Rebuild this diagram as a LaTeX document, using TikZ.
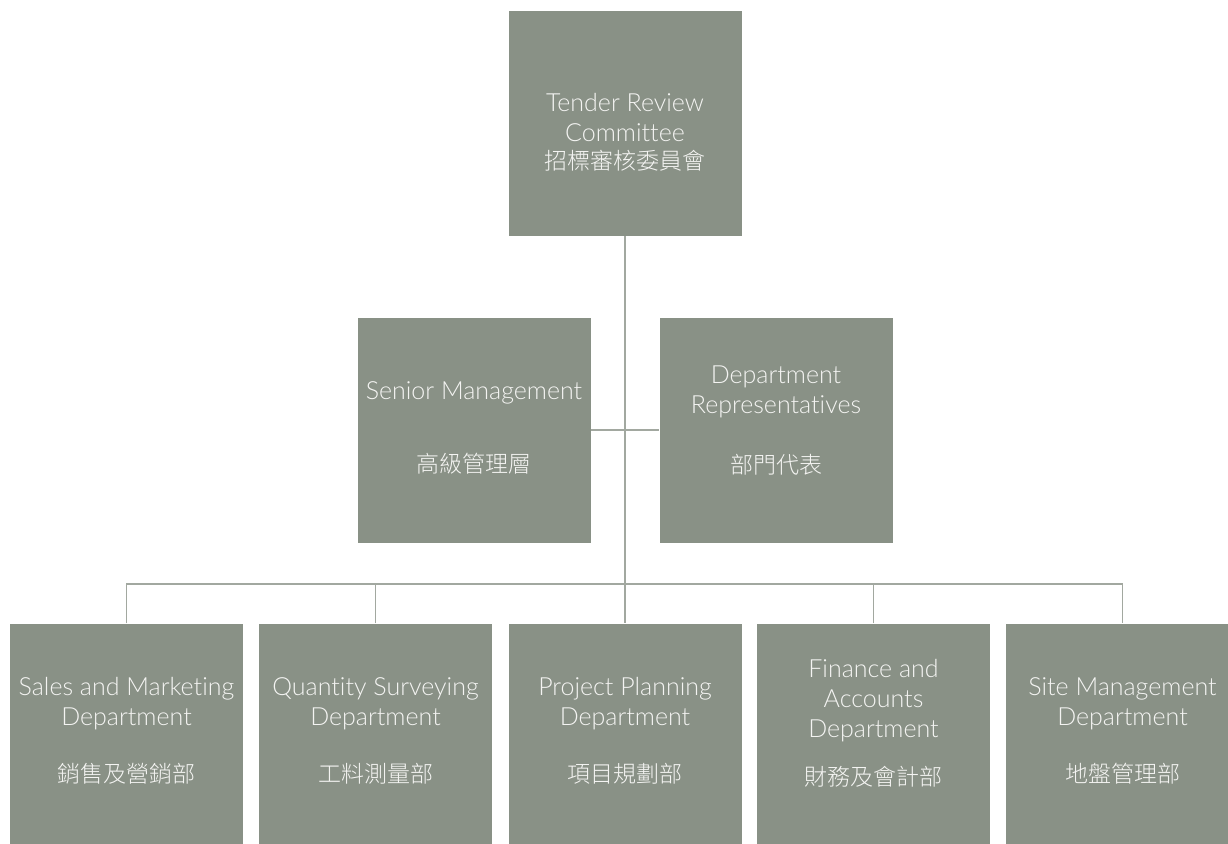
\documentclass[tikz,border=0pt]{standalone}
\usepackage{fontspec}
\setmainfont{Lato}[UprightFont=* Light, Ligatures=NoCommon]
\newfontfamily\cjk{Noto Sans CJK TC}[UprightFont=* Light]
\usepackage{xcolor}
\usepackage{tikz}
\definecolor{boxgreen}{HTML}{899186}
\definecolor{linegray}{HTML}{A2A8A0}
\definecolor{boxtext}{HTML}{F4F4F2}
\newcommand{\zh}[1]{{\cjk\fontsize{23}{30}\selectfont #1}}

\tikzset{
  orgbox/.style={fill=boxgreen, minimum width=233pt, minimum height=225pt, inner sep=0pt},
  boxlabel/.style={text=boxtext, align=center, inner sep=0pt, font=\fontsize{25}{30}\selectfont},
  link/.style={linegray, line width=1.3pt}
}

\begin{document}
\begin{tikzpicture}[x=1pt, y=-1pt]
  \useasboundingbox (0,0) rectangle (1228,843);
  % boxes
  \node[orgbox, label={[boxlabel, yshift=-9pt]center:{Tender Review\\Committee\\[-2pt]\zh{招標審核委員會}}}] (trc) at (625,123.5) {};
  \node[orgbox, label={[boxlabel, yshift=2pt]center:{Senior Management\\[43pt]\zh{高級管理層}}}] (senior) at (474,430) {};
  \node[orgbox, label={[boxlabel, yshift=9pt]center:{Department\\Representatives\\[30pt]\zh{部門代表}}}] (deprep) at (776,430) {};
  \node[orgbox, label={[boxlabel, yshift=5pt]center:{Sales and Marketing\\Department\\[27pt]\zh{銷售及營銷部}}}] (sales) at (126.5,736) {};
  \node[orgbox, label={[boxlabel, yshift=5pt]center:{Quantity Surveying\\Department\\[27pt]\zh{工料測量部}}}] (qsd) at (375.5,736) {};
  \node[orgbox, label={[boxlabel, yshift=5pt]center:{Project Planning\\Department\\[27pt]\zh{項目規劃部}}}] (ppd) at (625,736) {};
  \node[orgbox, label={[boxlabel, yshift=13pt]center:{Finance and\\Accounts\\Department\\[18pt]\zh{財務及會計部}}}] (fad) at (873.5,736) {};
  \node[orgbox, label={[boxlabel, yshift=5pt]center:{Site Management\\Department\\[27pt]\zh{地盤管理部}}}] (smd) at (1122.5,736) {};
  % connectors
  \coordinate (bus) at (625,584);
  \draw[link] (trc.south) -- (ppd.north);
  \draw[link] (senior.east) -- (deprep.west);
  \draw[link] (sales.north) |- (bus) -| (smd.north);
  \draw[link] (qsd.north) |- (bus);
  \draw[link] (fad.north) |- (bus);
\end{tikzpicture}
\end{document}
